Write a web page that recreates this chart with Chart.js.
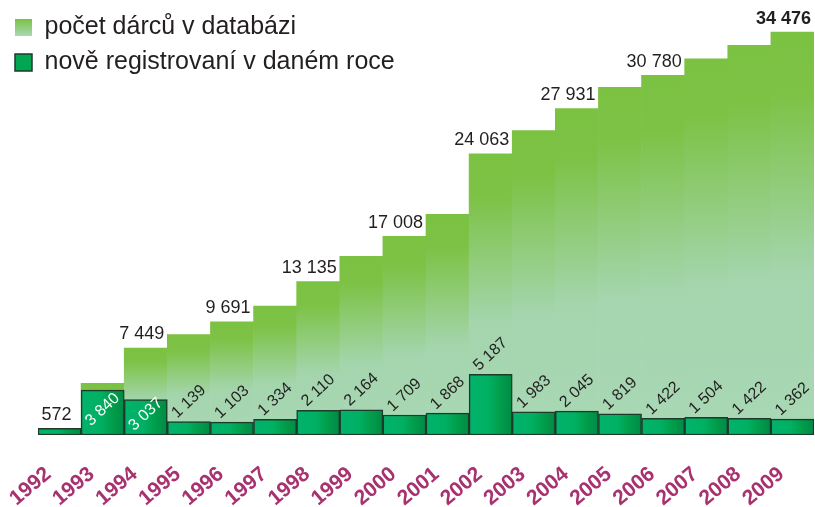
<!DOCTYPE html>
<html>
<head>
<meta charset="utf-8">
<script src="https://cdn.jsdelivr.net/npm/chart.js@4.4.1/dist/chart.umd.min.js"></script>
<style>
html,body{margin:0;padding:0;background:#ffffff;}
#c{display:block;}
</style>
</head>
<body>
<canvas id="c" width="815" height="507"></canvas>
<script>
// ---- data ----
const years = ['1992','1993','1994','1995','1996','1997','1998','1999','2000','2001','2002','2003','2004','2005','2006','2007','2008','2009'];
const totalDonors = [572, 4412, 7449, 8588, 9691, 11025, 13135, 15299, 17008, 18876, 24063, 26046, 27931, 29750, 30780, 32200, 33350, 34476];
const newDonors = [572, 3840, 3037, 1139, 1103, 1334, 2110, 2164, 1709, 1868, 5187, 1983, 2045, 1819, 1422, 1504, 1422, 1362];
const totalLabelIdx = [0, 2, 4, 6, 8, 10, 12, 14, 17];
const boldTotalIdx = [17];
const insideNewIdx = [1, 2];
const seriesNames = ['počet dárců v databázi', 'nově registrovaní v daném roce'];

const FONT = '"Liberation Sans", Arial, Helvetica, sans-serif';
const fmt = v => String(v).replace(/\B(?=(\d{3})+(?!\d))/g, ' ');

function totalFill(ctx) {
  const chart = ctx.chart;
  if (ctx.type !== 'data' || !chart.chartArea) return '#8cc66f';
  const ys = chart.scales.y;
  const top = ys.getPixelForValue(ctx.raw);
  const base = ys.getPixelForValue(0);
  const g = chart.ctx.createLinearGradient(0, top, 0, base);
  g.addColorStop(0, '#7bc142');
  g.addColorStop(0.15, '#7dc245');
  g.addColorStop(0.6, '#a4d5ad');
  g.addColorStop(1, '#a9d8b5');
  return g;
}
function newFill(ctx) {
  const chart = ctx.chart;
  if (ctx.type !== 'data' || !chart.chartArea) return '#00a651';
  const xs = chart.scales.x;
  const c = xs.getPixelForValue(ctx.dataIndex);
  const w = xs.width / years.length;
  const g = chart.ctx.createLinearGradient(c - w / 2, 0, c + w / 2, 0);
  g.addColorStop(0, '#00b36c');
  g.addColorStop(0.45, '#00b063');
  g.addColorStop(0.7, '#009f4c');
  g.addColorStop(1, '#008a45');
  return g;
}

const legendShift = {
  id: 'legendShift',
  afterLayout(chart) {
    if (chart.legend) { chart.legend.left = 5; chart.legend.top = 5; }
  }
};

const valueLabels = {
  id: 'valueLabels',
  afterDatasetsDraw(chart) {
    const c = chart.ctx;
    const mTot = chart.getDatasetMeta(0);
    const mNew = chart.getDatasetMeta(1);
    c.save();
    mNew.data.forEach((el, i) => {
      if (i === 0) return;
      const inside = insideNewIdx.includes(i);
      const cy = inside ? (el.y + el.base) / 2 - 3 : el.y - 20;
      c.save();
      c.translate(el.x, cy);
      c.rotate(-43 * Math.PI / 180);
      c.font = '16px ' + FONT;
      c.fillStyle = inside ? '#ffffff' : '#231f20';
      c.textAlign = 'center';
      c.textBaseline = 'middle';
      c.fillText(fmt(newDonors[i]), 0, 0);
      c.restore();
    });
    totalLabelIdx.forEach(i => {
      const el = mTot.data[i];
      const bold = boldTotalIdx.includes(i);
      c.font = (bold ? 'bold ' : '') + '18px ' + FONT;
      c.fillStyle = '#231f20';
      c.textBaseline = 'alphabetic';
      if (i === 0) {
        c.textAlign = 'center';
        c.fillText(fmt(totalDonors[i]), el.x - 3, el.y - 8.5);
      } else {
        c.textAlign = 'right';
        c.fillText(fmt(totalDonors[i]), el.x + el.width / 2 - 3, el.y - 8.5);
      }
    });
    c.restore();
  }
};

new Chart(document.getElementById('c'), {
  type: 'bar',
  data: {
    labels: years,
    datasets: [
      {
        label: seriesNames[0],
        data: totalDonors,
        backgroundColor: totalFill,
        borderWidth: 0,
        order: 2,
        grouped: false,
        barPercentage: 1,
        categoryPercentage: 1
      },
      {
        label: seriesNames[1],
        data: newDonors,
        backgroundColor: newFill,
        borderColor: '#1e3a2a',
        borderWidth: 1.5,
        borderSkipped: false,
        order: 1,
        grouped: false,
        barPercentage: 1,
        categoryPercentage: 1
      }
    ]
  },
  options: {
    responsive: false,
    animation: false,
    devicePixelRatio: 1,
    layout: { padding: { left: 38, right: 1, top: 5, bottom: 0 } },
    plugins: {
      tooltip: { enabled: false },
      legend: {
        position: 'chartArea',
        align: 'start',
        labels: {
          font: { family: FONT, size: 25 },
          color: '#231f20',
          boxWidth: 17,
          boxHeight: 17,
          padding: 10,
          generateLabels(chart) {
            const items = Chart.defaults.plugins.legend.labels.generateLabels(chart);
            items.sort((a, b) => a.datasetIndex - b.datasetIndex);
            const g = chart.ctx.createLinearGradient(0, 19, 0, 36);
            g.addColorStop(0, '#7bc142');
            g.addColorStop(1, '#a9d8b5');
            items.forEach(it => {
              if (it.datasetIndex === 0) { it.fillStyle = g; it.lineWidth = 0; it.strokeStyle = 'rgba(0,0,0,0)'; }
              else { it.fillStyle = '#00a651'; it.strokeStyle = '#1e3a2a'; it.lineWidth = 1.5; }
            });
            return items;
          }
        }
      }
    },
    scales: {
      x: {
        grid: { display: false, drawTicks: false },
        border: { display: false },
        ticks: {
          autoSkip: false,
          minRotation: 40,
          maxRotation: 40,
          padding: 27,
          labelOffset: -11,
          color: '#a83270',
          font: { family: FONT, size: 21, weight: 'bold' }
        },
        afterFit(s) { s.height = 72; s.paddingLeft = 0; s.paddingRight = 0; }
      },
      y: {
        display: false,
        min: 0,
        max: 36800
      }
    }
  },
  plugins: [legendShift, valueLabels]
});
</script>
</body>
</html>
